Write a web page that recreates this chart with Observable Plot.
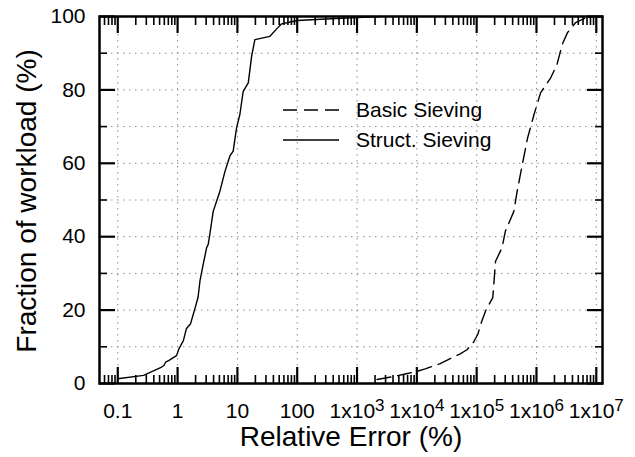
<!DOCTYPE html>
<html><head><meta charset="utf-8">
<script src="https://cdn.jsdelivr.net/npm/d3@7"></script>
<script src="https://cdn.jsdelivr.net/npm/@observablehq/plot@0.6"></script>
<style>
body{margin:0;background:#fff}
#wrap{position:relative;width:635px;height:457px;overflow:hidden;font-family:"Liberation Sans",Arial,sans-serif}
#legend{position:absolute;left:0;top:0;pointer-events:none}
</style>
</head><body><div id="wrap"></div>
<script>
// Struct. Sieving (solid)
const structX = [0.1, 0.27, 0.52, 0.59, 0.63, 0.72, 0.96, 1.05, 1.25, 1.4, 1.65, 1.84, 1.95, 2.2, 2.37, 2.69, 3.06, 3.25, 3.47, 3.94, 5.1, 6.2, 7.5, 8.5, 9.7, 11, 12.5, 15.2, 17.3, 19.6, 35, 47, 55, 100, 300, 1000, 2500];
const structY = [1.3, 2.2, 4.3, 4.9, 5.8, 6.3, 7.6, 9.4, 11.7, 14.9, 16.3, 19, 20.4, 23.5, 28, 32.6, 37, 37.9, 40.8, 46.9, 52.4, 57.8, 62, 63.3, 69.7, 73.3, 79.6, 81.9, 89.2, 93.7, 94.6, 96.9, 98, 98.9, 99.3, 99.7, 100];
// Basic Sieving (dashed)
const basicX = [2160, 4100, 6400, 10000, 13800, 24600, 53000, 69000, 89000, 105000, 117000, 142000, 186000, 207000, 266000, 302000, 418000, 476000, 580000, 710000, 910000, 1.17e6, 1.73e6, 2.2e6, 2.7e6, 3.3e6, 4.5e6, 5.9e6, 7.5e6];
const basicY = [1.1, 1.9, 2.6, 3.3, 4.0, 5.4, 8.1, 9.2, 11.3, 13.5, 16.2, 19.9, 23.4, 33.3, 37, 41.5, 46.9, 52.4, 59.7, 66.9, 73.3, 79.2, 83.3, 86.9, 92.4, 95.6, 98.3, 99.2, 100];

const seriesNames = ["Basic Sieving", "Struct. Sieving"];
const xMajorTicks = [0.1, 1, 10, 100, 1e3, 1e4, 1e5, 1e6, 1e7];
const xMinorTicks = [0.06, 0.07, 0.08, 0.09];
for (const d of xMajorTicks.slice(0, -1)) for (let m = 2; m <= 9; m++) xMinorTicks.push(+(d * m).toPrecision(3));
const yMajorTicks = [0, 20, 40, 60, 80, 100];
const yMinorTicks = [10, 30, 50, 70, 90];
const yGridTicks = [10, 20, 30, 40, 50, 60, 70, 80, 90];
const xLabel = "Relative Error (%)";
const yLabel = "Fraction of workload (%)";

const struct = structX.map((x, i) => ({x, y: structY[i]}));
const basic = basicX.map((x, i) => ({x, y: basicY[i]}));

const fmtX = d => d < 1000 ? String(d) : "1x10^" + Math.round(Math.log10(d));
const font = "Liberation Sans, Arial, sans-serif";

const plot = Plot.plot({
  width: 635, height: 457,
  marginLeft: 99, marginRight: 33, marginTop: 16, marginBottom: 74,
  style: {fontFamily: font, background: "#fff", color: "#000"},
  x: {type: "log", domain: [0.0495, 1.27e7]},
  y: {domain: [0, 100]},
  marks: [
    Plot.gridX(xMajorTicks, {stroke: "#8c8c8c", strokeOpacity: 1, strokeWidth: 1, strokeDasharray: "1.5,4.5"}),
    Plot.gridY(yGridTicks, {stroke: "#8c8c8c", strokeOpacity: 1, strokeWidth: 1, strokeDasharray: "1.5,4.5"}),
    Plot.line(basic, {x: "x", y: "y", stroke: "#000", strokeWidth: 1.4, strokeDasharray: "14,7"}),
    Plot.line(struct, {x: "x", y: "y", stroke: "#000", strokeWidth: 1.4}),
    // ticks (inward)
    Plot.axisX(xMajorTicks, {anchor: "bottom", tickSize: -16, strokeWidth: 2.2, tickFormat: () => "", label: null}),
    Plot.axisX(xMinorTicks, {anchor: "bottom", tickSize: -8, strokeWidth: 1.6, tickFormat: () => "", label: null}),
    Plot.axisX(xMajorTicks, {anchor: "top", tickSize: -16, strokeWidth: 2.2, tickFormat: () => "", label: null}),
    Plot.axisX(xMinorTicks, {anchor: "top", tickSize: -8, strokeWidth: 1.6, tickFormat: () => "", label: null}),
    Plot.axisY(yMajorTicks, {anchor: "left", tickSize: -16, strokeWidth: 2.2, tickFormat: () => "", label: null}),
    Plot.axisY(yMinorTicks, {anchor: "left", tickSize: -8, strokeWidth: 1.6, tickFormat: () => "", label: null}),
    Plot.axisY(yMajorTicks, {anchor: "right", tickSize: -16, strokeWidth: 2.2, tickFormat: () => "", label: null}),
    Plot.axisY(yMinorTicks, {anchor: "right", tickSize: -8, strokeWidth: 1.6, tickFormat: () => "", label: null}),
    // tick labels
    Plot.axisX(xMajorTicks, {anchor: "bottom", tickSize: 0, tickPadding: 20, fontSize: 21, tickFormat: fmtX, label: null, fill: "#000"}),
    Plot.axisY(yMajorTicks, {anchor: "left", tickSize: 0, tickPadding: 14, fontSize: 21, label: null, fill: "#000"}),
    Plot.frame({stroke: "#000", strokeWidth: 2.5}),
    // axis titles
    Plot.text([xLabel], {frameAnchor: "bottom", dy: 62, fontSize: 28, fill: "#000", textAnchor: "middle", text: d => d}),
    Plot.text([yLabel], {frameAnchor: "left", dx: -72, dy: 1, rotate: -90, fontSize: 28, fill: "#000", textAnchor: "middle", text: d => d})
  ]
});

// superscripts in x tick labels
d3.select(plot).selectAll("text").each(function() {
  const t = this.textContent;
  const m = /^1x10\^(\d)$/.exec(t);
  if (m) {
    const sel = d3.select(this);
    sel.text("1x10");
    sel.append("tspan").attr("dy", "-0.42em").attr("font-size", "17px").text(m[1]);
  }
});

const wrap = document.getElementById("wrap");
wrap.appendChild(plot);

// legend overlay
const leg = d3.select(wrap).append("svg").attr("id", "legend").attr("width", 635).attr("height", 457);
const legRows = [
  {name: seriesNames[0], dash: "14,7", y: 110},
  {name: seriesNames[1], dash: null, y: 140}
];
for (const r of legRows) {
  leg.append("line").attr("x1", 283).attr("x2", 339).attr("y1", r.y).attr("y2", r.y)
    .attr("stroke", "#000").attr("stroke-width", 1.4).attr("stroke-dasharray", r.dash);
  leg.append("text").attr("x", 356).attr("y", r.y).attr("dy", "0.35em")
    .attr("font-family", font).attr("font-size", 21).attr("fill", "#000").text(r.name);
}
</script>
</body></html>
